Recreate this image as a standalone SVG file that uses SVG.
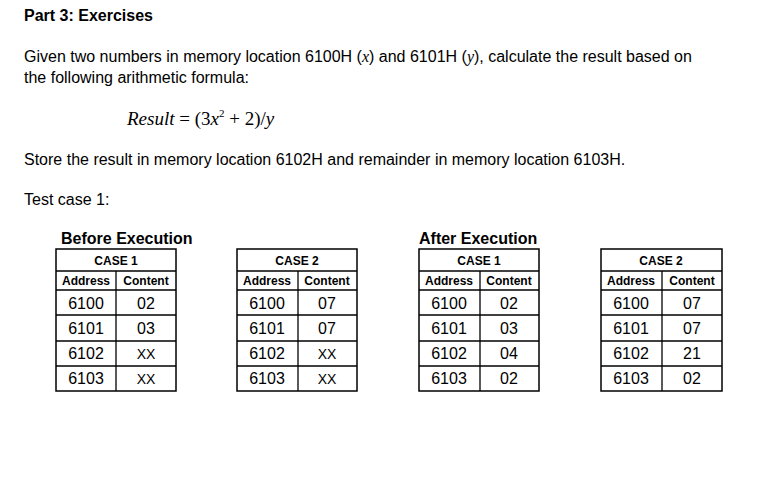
<svg xmlns="http://www.w3.org/2000/svg" width="772" height="498" viewBox="0 0 772 498">
<style>
text{font-family:"Liberation Sans",Arial,sans-serif;fill:#000}
.b{font-weight:bold}
.p{font-size:16px}
.s{font-size:12px;font-weight:bold;text-anchor:middle}
.c{font-size:16px;text-anchor:middle}
.x{font-size:14px;text-anchor:middle}
.f{font-family:"Liberation Serif","Times New Roman",serif;font-style:italic;font-size:19px}
.g line{stroke:#000;stroke-width:1.3}
.g rect{fill:none;stroke:#000;stroke-width:1.5}
</style>
<rect width="772" height="498" fill="#fff"/>
<text x="24" y="21" class="p b">Part 3: Exercises</text>
<text x="24" y="62" class="p">Given two numbers in memory location 6100H (<tspan font-family="Liberation Serif" font-style="italic">x</tspan>) and 6101H (<tspan font-family="Liberation Serif" font-style="italic">y</tspan>), calculate the result based on</text>
<text x="24" y="83" class="p">the following arithmetic formula:</text>
<text x="127" y="125" class="f">Result <tspan font-style="normal">= (3</tspan>x<tspan font-size="11" dy="-8" font-style="normal">2</tspan><tspan dy="8" font-style="normal"> + 2)/</tspan>y</text>
<text x="24" y="165" class="p">Store the result in memory location 6102H and remainder in memory location 6103H.</text>
<text x="24" y="205" class="p">Test case 1:</text>
<text x="61" y="244" class="p b">Before Execution</text>
<text x="419" y="244" class="p b">After Execution</text>
<g id="t1" class="g" transform="translate(56,249)">
<rect x="0" y="0" width="120" height="142"/>
<line x1="0" y1="22" x2="120" y2="22"/><line x1="0" y1="41" x2="120" y2="41"/><line x1="0" y1="66" x2="120" y2="66"/><line x1="0" y1="92" x2="120" y2="92"/><line x1="0" y1="117" x2="120" y2="117"/>
<line x1="60" y1="22" x2="60" y2="142"/>
<text x="60" y="16" class="s">CASE 1</text>
<text x="30" y="36" class="s">Address</text><text x="90" y="36" class="s">Content</text>
<text x="30" y="60" class="c">6100</text><text x="90" y="60" class="c">02</text>
<text x="30" y="85" class="c">6101</text><text x="90" y="85" class="c">03</text>
<text x="30" y="110" class="c">6102</text><text x="90" y="110" class="x">XX</text>
<text x="30" y="135" class="c">6103</text><text x="90" y="135" class="x">XX</text>
</g>
<g id="t2" class="g" transform="translate(237,249)">
<rect x="0" y="0" width="120" height="142"/>
<line x1="0" y1="22" x2="120" y2="22"/><line x1="0" y1="41" x2="120" y2="41"/><line x1="0" y1="66" x2="120" y2="66"/><line x1="0" y1="92" x2="120" y2="92"/><line x1="0" y1="117" x2="120" y2="117"/>
<line x1="61" y1="22" x2="61" y2="142"/>
<text x="60" y="16" class="s">CASE 2</text>
<text x="30" y="36" class="s">Address</text><text x="90" y="36" class="s">Content</text>
<text x="30" y="60" class="c">6100</text><text x="90" y="60" class="c">07</text>
<text x="30" y="85" class="c">6101</text><text x="90" y="85" class="c">07</text>
<text x="30" y="110" class="c">6102</text><text x="90" y="110" class="x">XX</text>
<text x="30" y="135" class="c">6103</text><text x="90" y="135" class="x">XX</text>
</g>
<g id="t3" class="g" transform="translate(419,249)">
<rect x="0" y="0" width="120" height="142"/>
<line x1="0" y1="22" x2="120" y2="22"/><line x1="0" y1="41" x2="120" y2="41"/><line x1="0" y1="66" x2="120" y2="66"/><line x1="0" y1="92" x2="120" y2="92"/><line x1="0" y1="117" x2="120" y2="117"/>
<line x1="61" y1="22" x2="61" y2="142"/>
<text x="60" y="16" class="s">CASE 1</text>
<text x="30" y="36" class="s">Address</text><text x="90" y="36" class="s">Content</text>
<text x="30" y="60" class="c">6100</text><text x="90" y="60" class="c">02</text>
<text x="30" y="85" class="c">6101</text><text x="90" y="85" class="c">03</text>
<text x="30" y="110" class="c">6102</text><text x="90" y="110" class="c">04</text>
<text x="30" y="135" class="c">6103</text><text x="90" y="135" class="c">02</text>
</g>
<g id="t4" class="g" transform="translate(601,249)">
<rect x="0" y="0" width="121" height="142"/>
<line x1="0" y1="22" x2="121" y2="22"/><line x1="0" y1="41" x2="121" y2="41"/><line x1="0" y1="66" x2="121" y2="66"/><line x1="0" y1="92" x2="121" y2="92"/><line x1="0" y1="117" x2="121" y2="117"/>
<line x1="61" y1="22" x2="61" y2="142"/>
<text x="60" y="16" class="s">CASE 2</text>
<text x="30" y="36" class="s">Address</text><text x="91" y="36" class="s">Content</text>
<text x="30" y="60" class="c">6100</text><text x="91" y="60" class="c">07</text>
<text x="30" y="85" class="c">6101</text><text x="91" y="85" class="c">07</text>
<text x="30" y="110" class="c">6102</text><text x="91" y="110" class="c">21</text>
<text x="30" y="135" class="c">6103</text><text x="91" y="135" class="c">02</text>
</g>
</svg>
